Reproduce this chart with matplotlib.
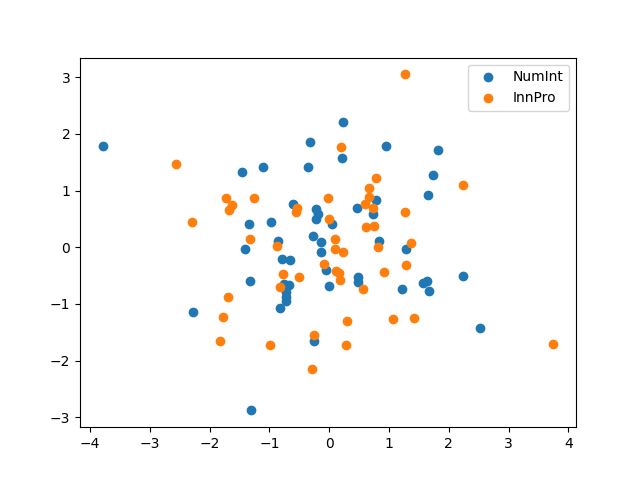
import matplotlib
matplotlib.use("Agg")
import matplotlib.pyplot as plt

# valores
numint_x = [-3.79, -1.46, -1.11, -0.32, -0.35, -0.60, -0.22, -0.18, -0.22, -1.34,
            -0.98, -0.27, -0.13, -0.85, -1.41, -0.14, 0.04, -0.79, -0.66, -0.05,
            0.00, -1.32, -0.76, -0.67, -0.72, -0.72, -0.72, -0.83, -0.25, -2.28,
            -1.30, 0.23, 0.22, 0.95, 1.82, 1.74, 1.66, 0.79, 0.74, 0.47,
            0.83, 1.29, 0.49, 0.49, 1.22, 1.57, 1.63, 1.67, 2.24, 2.53]
numint_y = [1.79, 1.32, 1.42, 1.85, 1.42, 0.77, 0.68, 0.58, 0.49, 0.41,
            0.44, 0.19, 0.09, 0.11, -0.04, -0.09, 0.41, -0.20, -0.22, -0.41,
            -0.68, -0.59, -0.65, -0.67, -0.79, -0.88, -0.95, -1.08, -1.66, -1.15,
            -2.88, 2.21, 1.57, 1.79, 1.72, 1.28, 0.93, 0.83, 0.58, 0.70,
            0.11, -0.04, -0.53, -0.62, -0.73, -0.63, -0.59, -0.78, -0.50, -1.43]

innpro_x = [-2.57, -1.72, -1.62, -1.67, -1.26, -2.29, -0.54, -0.55, -0.02, 0.00,
            -1.33, -0.87, 0.10, 0.10, -0.09, 0.12, 0.16, 0.18, -0.77, -0.51,
            -0.83, -1.69, -1.77, -1.82, -0.99, -0.25, -0.28, 1.26, 0.20, 2.23,
            0.79, 0.67, 0.66, 0.60, 0.74, 1.27, 0.62, 0.75, 0.82, 1.37,
            0.23, 1.28, 0.92, 0.57, 3.75, 0.30, 0.28, 1.07, 1.42]
innpro_y = [1.46, 0.86, 0.74, 0.65, 0.86, 0.45, 0.70, 0.63, 0.86, 0.49,
            0.15, 0.02, 0.15, -0.03, -0.30, -0.42, -0.45, -0.58, -0.48, -0.53,
            -0.71, -0.87, -1.24, -1.66, -1.73, -1.55, -2.15, 3.05, 1.76, 1.09,
            1.23, 1.04, 0.89, 0.76, 0.70, 0.63, 0.35, 0.38, 0.01, 0.08,
            -0.09, -0.32, -0.43, -0.73, -1.70, -1.31, -1.72, -1.27, -1.25]

fig, ax = plt.subplots(figsize=(6.4, 4.8), dpi=100)
ax.scatter(numint_x, numint_y, label="NumInt")
ax.scatter(innpro_x, innpro_y, label="InnPro")
ax.legend(loc="upper right")

fig.savefig("out.png")
